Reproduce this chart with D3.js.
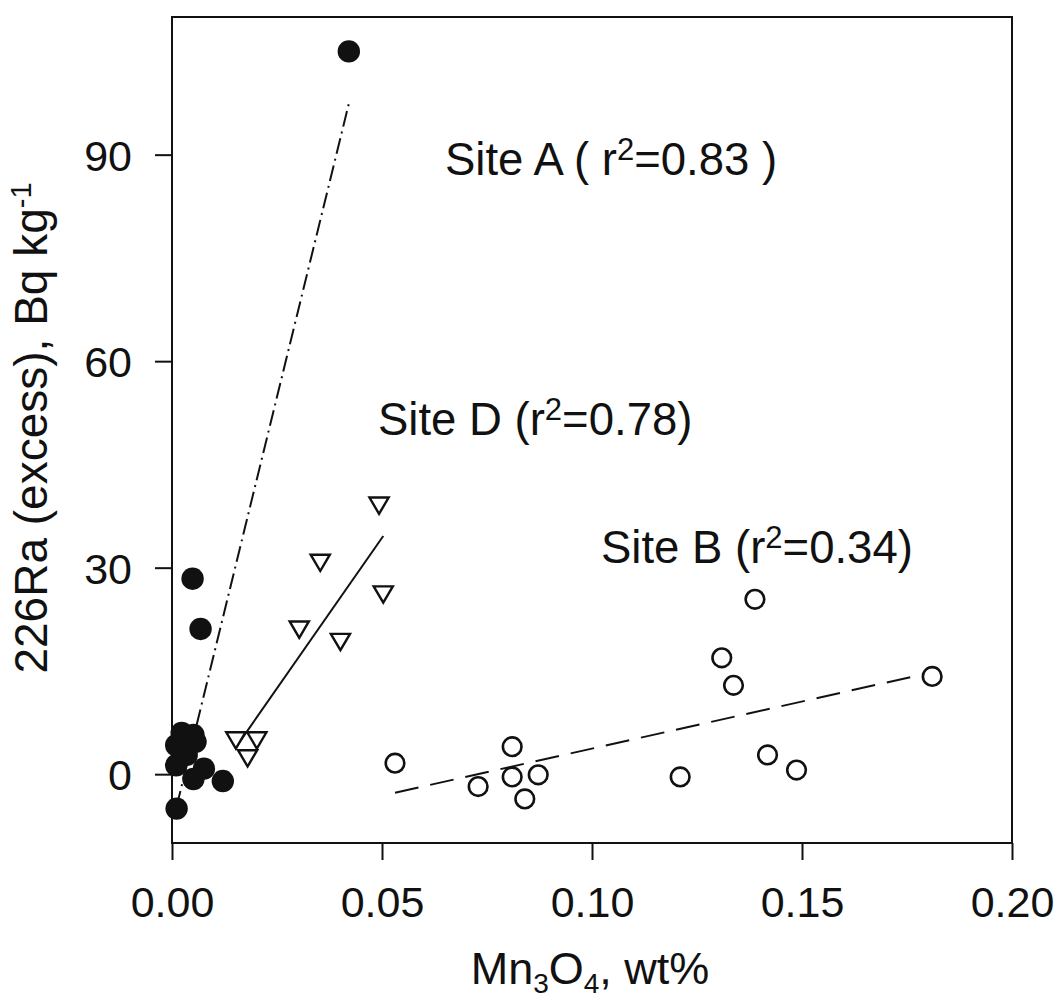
<!DOCTYPE html>
<html>
<head>
<meta charset="utf-8">
<script src="https://cdn.jsdelivr.net/npm/d3@7"></script>
<style>
  html, body { margin: 0; padding: 0; background: #fff; }
  svg { display: block; }
  text { font-family: "Liberation Sans", Arial, Helvetica, sans-serif; fill: #111; }
</style>
</head>
<body>
<script>
// Mn3O4 content (wt%) vs excess 226Ra (Bq/kg) for three sites
const xTicks = [0.00, 0.05, 0.10, 0.15, 0.20];
const yTicks = [0, 30, 60, 90];

// Site A (filled circles)
const siteA = [
  [0.0023, 6.0], [0.0051, 5.7], [0.0010, 4.2], [0.0056, 4.7],
  [0.0035, 2.8], [0.0010, 1.3], [0.0076, 0.8], [0.0051, -0.7],
  [0.0121, -1.0], [0.0011, -5.0], [0.0049, 28.4], [0.0068, 21.1],
  [0.0421, 105.0]
];
// Site D (open down-triangles)
const siteD = [
  [0.0152, 4.9], [0.0202, 4.9], [0.0180, 2.3],
  [0.0303, 21.0], [0.0353, 30.7], [0.0401, 19.2],
  [0.0493, 39.0], [0.0503, 26.1]
];
// Site B (open circles)
const siteB = [
  [0.0531, 1.6], [0.0729, -1.8], [0.0810, 4.0], [0.0810, -0.4],
  [0.0840, -3.6], [0.0872, -0.1], [0.1210, -0.4], [0.1309, 16.9],
  [0.1337, 12.9], [0.1388, 25.4], [0.1418, 2.8], [0.1487, 0.6],
  [0.1810, 14.2]
];

// Regression lines (end points)
const fitA = [[0.0011, -4.7], [0.0421, 97.4]];
const fitD = [[0.0152, 3.9], [0.0503, 34.6]];
const fitB = [[0.0531, -2.7], [0.1810, 14.8]];

const labelA = ["Site A ( r", "2", "=0.83 )"];
const labelD = ["Site D (r", "2", "=0.78)"];
const labelB = ["Site B (r", "2", "=0.34)"];

const W = 1057, H = 1003;
const margin = { left: 172, top: 17, right: 45, bottom: 160 };
const iw = W - margin.left - margin.right;   // 840
const ih = H - margin.top - margin.bottom;   // 826

const svg = d3.select("body").append("svg")
  .attr("width", W).attr("height", H);

const g = svg.append("g").attr("transform", `translate(${margin.left},${margin.top})`);

const x = d3.scaleLinear().domain([0, 0.20]).range([0, iw]);
const y = d3.scaleLinear().domain([-10, 110]).range([ih, 0]);

// axes
const xAxis = d3.axisBottom(x).tickValues(xTicks).tickFormat(d3.format(".2f"))
  .tickSizeInner(17).tickSizeOuter(0).tickPadding(26);
const yAxis = d3.axisLeft(y).tickValues(yTicks).tickFormat(d3.format("d"))
  .tickSizeInner(17).tickSizeOuter(0).tickPadding(23);

const gx = g.append("g").attr("transform", `translate(0,${ih})`).call(xAxis);
const gy = g.append("g").call(yAxis);
[gx, gy].forEach(a => {
  a.select(".domain").remove();
  a.selectAll(".tick line").attr("stroke", "#111").attr("stroke-width", 2);
  a.selectAll(".tick text").attr("font-size", 43).attr("fill", "#111")
    .style("font-family", '"Liberation Sans", Arial, sans-serif');
});
gy.selectAll(".tick text").attr("dy", "0.36em");

// frame
g.append("rect").attr("x", 0).attr("y", 0).attr("width", iw).attr("height", ih)
  .attr("fill", "none").attr("stroke", "#111").attr("stroke-width", 2);

// fit lines
const line = d3.line().x(d => x(d[0])).y(d => y(d[1]));
g.append("path").datum(fitA).attr("d", line).attr("fill", "none")
  .attr("stroke", "#111").attr("stroke-width", 2).attr("stroke-dasharray", "16,5,2,5");
g.append("path").datum(fitD).attr("d", line).attr("fill", "none")
  .attr("stroke", "#111").attr("stroke-width", 2);
g.append("path").datum(fitB).attr("d", line).attr("fill", "none")
  .attr("stroke", "#111").attr("stroke-width", 2).attr("stroke-dasharray", "24,12");

// markers
const downTriangle = {
  draw(ctx, size) {
    const w = Math.sqrt(size * 2.3), h = w * 0.85;
    ctx.moveTo(-w / 2, -h / 2);
    ctx.lineTo(w / 2, -h / 2);
    ctx.lineTo(0, h / 2);
    ctx.closePath();
  }
};
g.append("g").selectAll("path").data(siteD).join("path")
  .attr("transform", d => `translate(${x(d[0])},${y(d[1])})`)
  .attr("d", d3.symbol(downTriangle, 160))
  .attr("fill", "#fff").attr("stroke", "#111").attr("stroke-width", 2.4)
  .attr("stroke-linejoin", "miter");

g.append("g").selectAll("circle").data(siteB).join("circle")
  .attr("cx", d => x(d[0])).attr("cy", d => y(d[1])).attr("r", 9.3)
  .attr("fill", "#fff").attr("stroke", "#111").attr("stroke-width", 2.6);

g.append("g").selectAll("circle").data(siteA).join("circle")
  .attr("cx", d => x(d[0])).attr("cy", d => y(d[1])).attr("r", 11.2)
  .attr("fill", "#111");

// site labels
function siteLabel(parts, px, py) {
  const t = g.append("text").attr("x", px).attr("y", py).attr("font-size", 45.5);
  t.append("tspan").text(parts[0]);
  t.append("tspan").attr("font-size", 31).attr("dy", -15).text(parts[1]);
  t.append("tspan").attr("dy", 15).text(parts[2]);
}
siteLabel(labelA, 273, 158);
siteLabel(labelD, 206, 418);
siteLabel(labelB, 429, 546);

// axis titles
const xt = svg.append("text").attr("x", 590).attr("y", 984)
  .attr("text-anchor", "middle").attr("font-size", 45);
xt.append("tspan").text("Mn");
xt.append("tspan").attr("font-size", 28).attr("dy", 9).text("3");
xt.append("tspan").attr("dy", -9).text("O");
xt.append("tspan").attr("font-size", 28).attr("dy", 9).text("4");
xt.append("tspan").attr("dy", -9).text(", wt%");

const yt = svg.append("text")
  .attr("transform", "translate(47,428) rotate(-90)")
  .attr("text-anchor", "middle").attr("font-size", 46);
yt.append("tspan").text("226Ra (excess), Bq kg");
yt.append("tspan").attr("font-size", 29).attr("dy", -16).text("-1");
</script>
</body>
</html>
